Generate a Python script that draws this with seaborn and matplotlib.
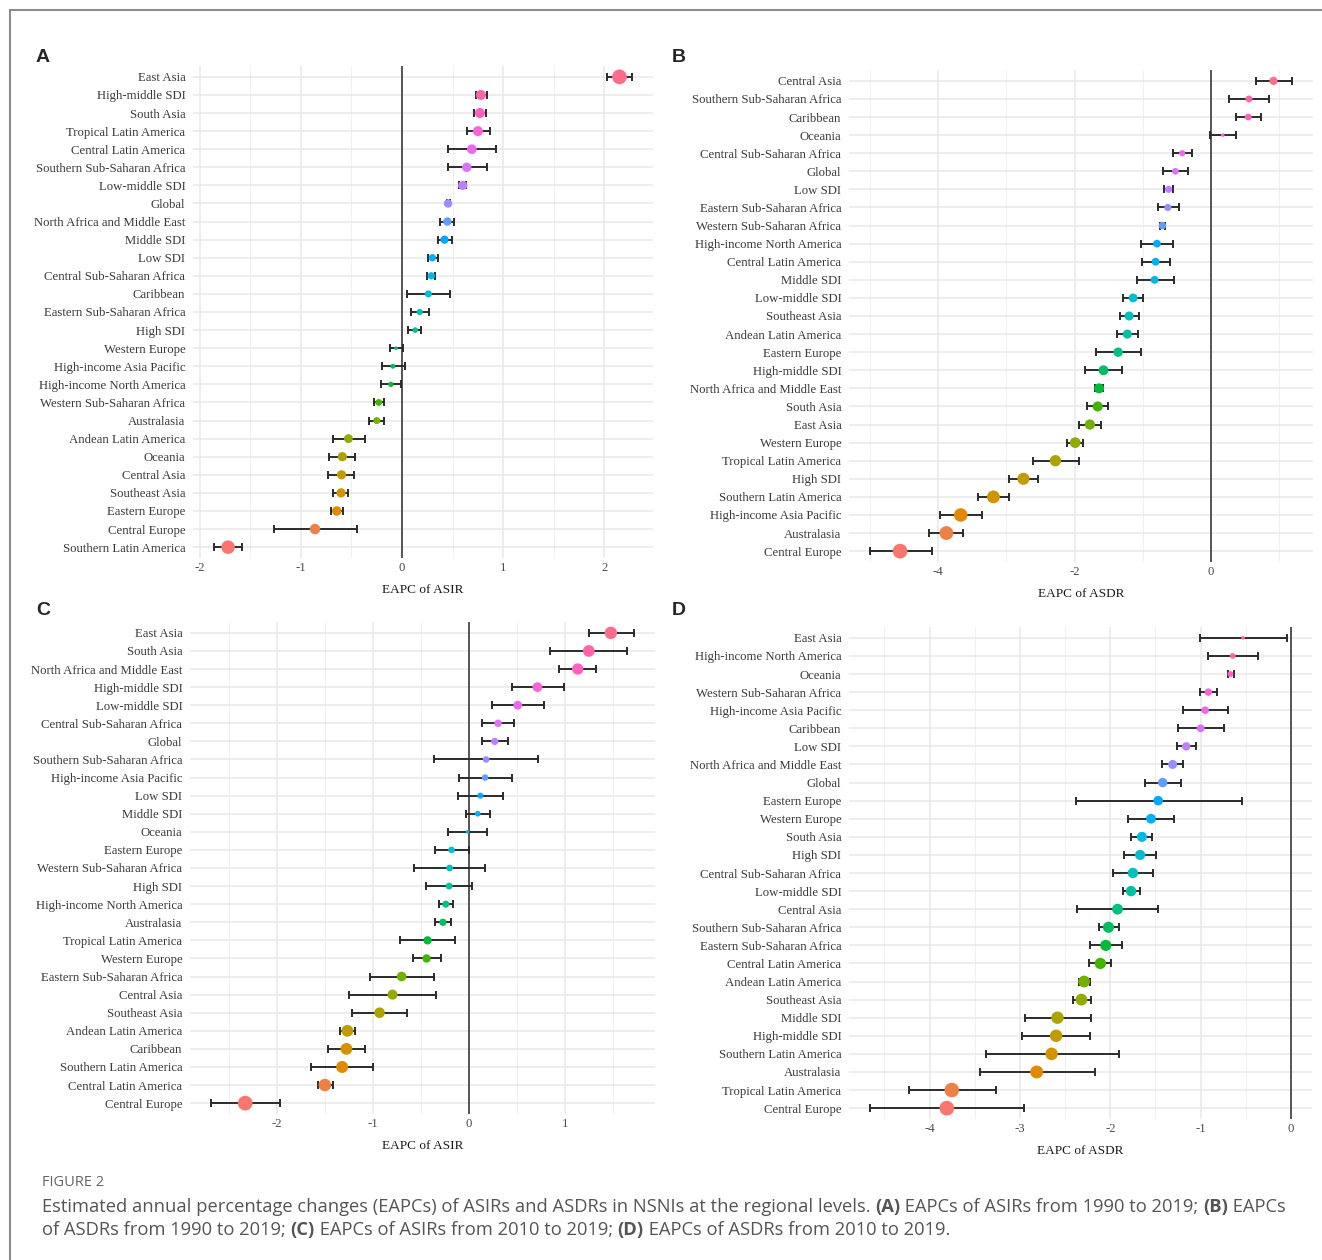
import numpy as np
import pandas as pd
import seaborn as sns
import matplotlib.pyplot as plt
from matplotlib.lines import Line2D

# panel A: EAPC of ASIR 1990-2019 (top to bottom)
regions_a = ["East Asia", "High-middle SDI", "South Asia", "Tropical Latin America",
             "Central Latin America", "Southern Sub-Saharan Africa", "Low-middle SDI", "Global",
             "North Africa and Middle East", "Middle SDI", "Low SDI", "Central Sub-Saharan Africa",
             "Caribbean", "Eastern Sub-Saharan Africa", "High SDI", "Western Europe",
             "High-income Asia Pacific", "High-income North America", "Western Sub-Saharan Africa",
             "Australasia", "Andean Latin America", "Oceania", "Central Asia", "Southeast Asia",
             "Eastern Europe", "Central Europe", "Southern Latin America"]
eapc_a = [2.15, 0.78, 0.77, 0.75, 0.69, 0.64, 0.60, 0.455, 0.448, 0.42, 0.30, 0.29, 0.26, 0.175,
          0.13, -0.06, -0.09, -0.11, -0.23, -0.25, -0.53, -0.59, -0.598, -0.603, -0.645, -0.86, -1.72]
lo_a = [2.03, 0.73, 0.71, 0.64, 0.45, 0.45, 0.56, 0.44, 0.38, 0.36, 0.26, 0.25, 0.05, 0.09,
        0.06, -0.12, -0.20, -0.21, -0.275, -0.325, -0.68, -0.725, -0.73, -0.68, -0.70, -1.27, -1.86]
hi_a = [2.275, 0.84, 0.83, 0.87, 0.93, 0.84, 0.63, 0.47, 0.51, 0.49, 0.36, 0.33, 0.475, 0.27,
        0.19, 0.005, 0.03, -0.01, -0.18, -0.18, -0.37, -0.46, -0.475, -0.53, -0.58, -0.445, -1.58]

# panel B: EAPC of ASDR 1990-2019
regions_b = ["Central Asia", "Southern Sub-Saharan Africa", "Caribbean", "Oceania",
             "Central Sub-Saharan Africa", "Global", "Low SDI", "Eastern Sub-Saharan Africa",
             "Western Sub-Saharan Africa", "High-income North America", "Central Latin America",
             "Middle SDI", "Low-middle SDI", "Southeast Asia", "Andean Latin America",
             "Eastern Europe", "High-middle SDI", "North Africa and Middle East", "South Asia",
             "East Asia", "Western Europe", "Tropical Latin America", "High SDI",
             "Southern Latin America", "High-income Asia Pacific", "Australasia", "Central Europe"]
eapc_b = [0.92, 0.56, 0.55, 0.175, -0.42, -0.52, -0.62, -0.63, -0.71, -0.79, -0.81, -0.825, -1.14,
          -1.2, -1.225, -1.36, -1.575, -1.64, -1.66, -1.775, -1.99, -2.28, -2.75, -3.19, -3.67,
          -3.88, -4.56]
lo_b = [0.67, 0.26, 0.375, -0.005, -0.56, -0.70, -0.69, -0.775, -0.74, -1.03, -1.01, -1.09, -1.29,
        -1.34, -1.37, -1.68, -1.84, -1.70, -1.81, -1.94, -2.11, -2.61, -2.96, -3.41, -3.975,
        -4.13, -5.0]
hi_b = [1.19, 0.86, 0.74, 0.37, -0.28, -0.33, -0.55, -0.47, -0.675, -0.55, -0.60, -0.54, -1.0,
        -1.05, -1.075, -1.025, -1.31, -1.58, -1.51, -1.61, -1.87, -1.94, -2.53, -2.96, -3.36,
        -3.64, -4.09]

# panel C: EAPC of ASIR 2010-2019
regions_c = ["East Asia", "South Asia", "North Africa and Middle East", "High-middle SDI",
             "Low-middle SDI", "Central Sub-Saharan Africa", "Global", "Southern Sub-Saharan Africa",
             "High-income Asia Pacific", "Low SDI", "Middle SDI", "Oceania", "Eastern Europe",
             "Western Sub-Saharan Africa", "High SDI", "High-income North America", "Australasia",
             "Tropical Latin America", "Western Europe", "Eastern Sub-Saharan Africa",
             "Central Asia", "Southeast Asia", "Andean Latin America", "Caribbean",
             "Southern Latin America", "Central Latin America", "Central Europe"]
eapc_c = [1.48, 1.25, 1.135, 0.715, 0.51, 0.305, 0.27, 0.18, 0.17, 0.12, 0.093, -0.013, -0.18,
          -0.20, -0.205, -0.24, -0.27, -0.43, -0.44, -0.70, -0.795, -0.93, -1.265, -1.275, -1.32,
          -1.50, -2.33]
lo_c = [1.25, 0.85, 0.945, 0.45, 0.245, 0.14, 0.14, -0.36, -0.10, -0.11, -0.03, -0.22, -0.35,
        -0.57, -0.45, -0.31, -0.35, -0.715, -0.58, -1.03, -1.25, -1.22, -1.34, -1.47, -1.64,
        -1.575, -2.685]
hi_c = [1.72, 1.65, 1.33, 0.995, 0.78, 0.475, 0.41, 0.72, 0.45, 0.36, 0.22, 0.19, 0.0, 0.17,
        0.03, -0.16, -0.19, -0.14, -0.29, -0.36, -0.34, -0.64, -1.185, -1.08, -1.0, -1.41, -1.97]

# panel D: EAPC of ASDR 2010-2019
regions_d = ["East Asia", "High-income North America", "Oceania", "Western Sub-Saharan Africa",
             "High-income Asia Pacific", "Caribbean", "Low SDI", "North Africa and Middle East",
             "Global", "Eastern Europe", "Western Europe", "South Asia", "High SDI",
             "Central Sub-Saharan Africa", "Low-middle SDI", "Central Asia",
             "Southern Sub-Saharan Africa", "Eastern Sub-Saharan Africa", "Central Latin America",
             "Andean Latin America", "Southeast Asia", "Middle SDI", "High-middle SDI",
             "Southern Latin America", "Australasia", "Tropical Latin America", "Central Europe"]
eapc_d = [-0.53, -0.645, -0.67, -0.915, -0.95, -1.0, -1.16, -1.31, -1.42, -1.47, -1.55, -1.65,
          -1.67, -1.75, -1.77, -1.92, -2.02, -2.05, -2.11, -2.29, -2.32, -2.585, -2.60, -2.65,
          -2.815, -3.755, -3.81]
lo_d = [-1.01, -0.915, -0.70, -1.01, -1.195, -1.25, -1.26, -1.43, -1.62, -2.38, -1.80, -1.77,
        -1.85, -1.97, -1.855, -2.37, -2.13, -2.23, -2.24, -2.345, -2.41, -2.94, -2.975, -3.38,
        -3.445, -4.23, -4.66]
hi_d = [-0.04, -0.37, -0.63, -0.82, -0.70, -0.74, -1.05, -1.19, -1.215, -0.545, -1.30, -1.54,
        -1.49, -1.53, -1.675, -1.47, -1.905, -1.87, -1.99, -2.22, -2.21, -2.21, -2.22, -1.905,
        -2.175, -3.27, -2.95]


def hcl_color(h, c=100, l=65):
    # polar CIELUV -> sRGB, same as R's hcl()
    hr = np.deg2rad(h)
    u, v = c * np.cos(hr), c * np.sin(hr)
    xn, yn, zn = 95.047, 100.0, 108.883
    un = 4 * xn / (xn + 15 * yn + 3 * zn)
    vn = 9 * yn / (xn + 15 * yn + 3 * zn)
    y = yn * ((l + 16) / 116) ** 3
    up = u / (13 * l) + un
    vp = v / (13 * l) + vn
    x = y * 9 * up / (4 * vp)
    z = y * (12 - 3 * up - 20 * vp) / (4 * vp)
    x, y, z = x / 100, y / 100, z / 100
    rgb = [3.2404542 * x - 1.5371385 * y - 0.4985314 * z,
           -0.9692660 * x + 1.8760108 * y + 0.0415560 * z,
           0.0556434 * x - 0.2040259 * y + 1.0572252 * z]
    out = []
    for t in rgb:
        t = min(max(t, 0.0), 1.0)
        out.append(12.92 * t if t <= 0.0031308 else 1.055 * t ** (1 / 2.4) - 0.055)
    return tuple(out)


sns.set_style("white")
plt.rcParams["font.family"] = ["Liberation Serif", "DejaVu Serif"]
plt.rcParams["axes.unicode_minus"] = False

fig = plt.figure(figsize=(13.22, 12.6), dpi=100)
W, H = 1322, 1260


def draw_panel(rect, regions, eapc, lo, hi, xlabel, major, minor):
    ax = fig.add_axes(rect)
    n = len(regions)
    df = pd.DataFrame({"region": regions, "eapc": eapc, "lo": lo, "hi": hi})
    df["pos"] = n - 1 - np.arange(n)
    a = df["eapc"].abs()
    norm = (a - a.min()) / (a.max() - a.min())
    df["area"] = (1.6 * (1 + 5 * np.sqrt(norm)) + 1.0) ** 2
    pal = {r: hcl_color(15 + 360 * p / n) for r, p in zip(df["region"], df["pos"])}

    ax.axvline(0, color="#4a4a4a", lw=1.3, zorder=1.5)
    ax.errorbar(df["eapc"], df["pos"], xerr=[df["eapc"] - df["lo"], df["hi"] - df["eapc"]],
                fmt="none", ecolor="#2b2b2b", elinewidth=1.4, capsize=3, capthick=1.4, zorder=2)
    sns.scatterplot(data=df, x="eapc", y="pos", hue="region", palette=pal, size="area",
                    sizes=(df["area"].min(), df["area"].max()), linewidth=0, legend=False,
                    ax=ax, zorder=3)

    lo_lim = min(df["lo"].min(), 0)
    hi_lim = max(df["hi"].max(), 0)
    pad = 0.05 * (hi_lim - lo_lim)
    ax.set_xlim(lo_lim - pad, hi_lim + pad)
    ax.set_ylim(-0.6, n - 0.4)
    ax.set_yticks(df["pos"])
    ax.set_yticklabels(df["region"])
    ax.set_xticks(major)
    ax.set_xticklabels([f"{t:g}" for t in major])
    ax.set_xticks(minor, minor=True)
    ax.grid(which="major", color="#e8e8e8", lw=1.1)
    ax.grid(which="minor", axis="x", color="#f0f0f0", lw=0.7)
    ax.set_axisbelow(True)
    for s in ax.spines.values():
        s.set_visible(False)
    ax.tick_params(axis="y", length=2.5, color="#bbbbbb", pad=3, labelsize=9.2,
                   labelcolor="#3a3a3a")
    ax.tick_params(axis="x", which="both", length=0, pad=3, labelsize=9.2,
                   labelcolor="#4d4d4d")
    ax.set_ylabel("")
    ax.set_xlabel(xlabel, fontsize=9.5, color="#1a1a1a", labelpad=7)
    return ax


draw_panel([193 / W, 1 - 558 / H, 460 / W, 492 / H], regions_a, eapc_a, lo_a, hi_a,
           "EAPC of ASIR", [-2, -1, 0, 1, 2], [-1.5, -0.5, 0.5, 1.5])
draw_panel([849 / W, 1 - 562 / H, 464 / W, 492 / H], regions_b, eapc_b, lo_b, hi_b,
           "EAPC of ASDR", [-4, -2, 0], [-5, -3, -1, 1])
draw_panel([190 / W, 1 - 1114 / H, 465 / W, 492 / H], regions_c, eapc_c, lo_c, hi_c,
           "EAPC of ASIR", [-2, -1, 0, 1], [-2.5, -1.5, -0.5, 0.5, 1.5])
draw_panel([849 / W, 1 - 1119 / H, 463 / W, 492 / H], regions_d, eapc_d, lo_d, hi_d,
           "EAPC of ASDR", [-4, -3, -2, -1, 0], [-4.5, -3.5, -2.5, -1.5, -0.5])

# panel letters
for lab, px, py in [("A", 43, 57), ("B", 679, 57), ("C", 43, 610), ("D", 679, 610)]:
    fig.text(px / W, 1 - py / H, lab, fontsize=14, fontweight="bold", ha="center",
             va="center", family=["Liberation Sans", "DejaVu Sans"])

# frame lines
fig.add_artist(Line2D([10 / W, 10 / W], [0, 1 - 10 / H], transform=fig.transFigure,
                      color="#8c8c8c", lw=1.5))
fig.add_artist(Line2D([10 / W, 1], [1 - 10 / H, 1 - 10 / H], transform=fig.transFigure,
                      color="#8c8c8c", lw=1.5))

# caption
cap_font = ["Open Sans", "DejaVu Sans"]
fig.text(42 / W, 1 - 1183 / H, "FIGURE 2", fontsize=10.5, color="#666666", va="center",
         family=cap_font)


def put_runs(x, y, runs, size, color):
    renderer = fig.canvas.get_renderer()
    for s, w in runs:
        t = fig.text(x, y, s, fontsize=size, fontweight=w, color=color, va="center",
                     family=cap_font)
        x += t.get_window_extent(renderer).width / fig.bbox.width


line1 = [("Estimated annual percentage changes (EAPCs) of ASIRs and ASDRs in NSNIs at the "
          "regional levels. ", "normal"), ("(A)", "bold"),
         (" EAPCs of ASIRs from 1990 to 2019; ", "normal"), ("(B)", "bold"), (" EAPCs", "normal")]
line2 = [("of ASDRs from 1990 to 2019; ", "normal"), ("(C)", "bold"),
         (" EAPCs of ASIRs from 2010 to 2019; ", "normal"), ("(D)", "bold"),
         (" EAPCs of ASDRs from 2010 to 2019.", "normal")]
put_runs(42 / W, 1 - 1207 / H, line1, 13.2, "#555555")
put_runs(42 / W, 1 - 1230 / H, line2, 13.2, "#555555")

fig.savefig("out.png", dpi=100, facecolor="white")
